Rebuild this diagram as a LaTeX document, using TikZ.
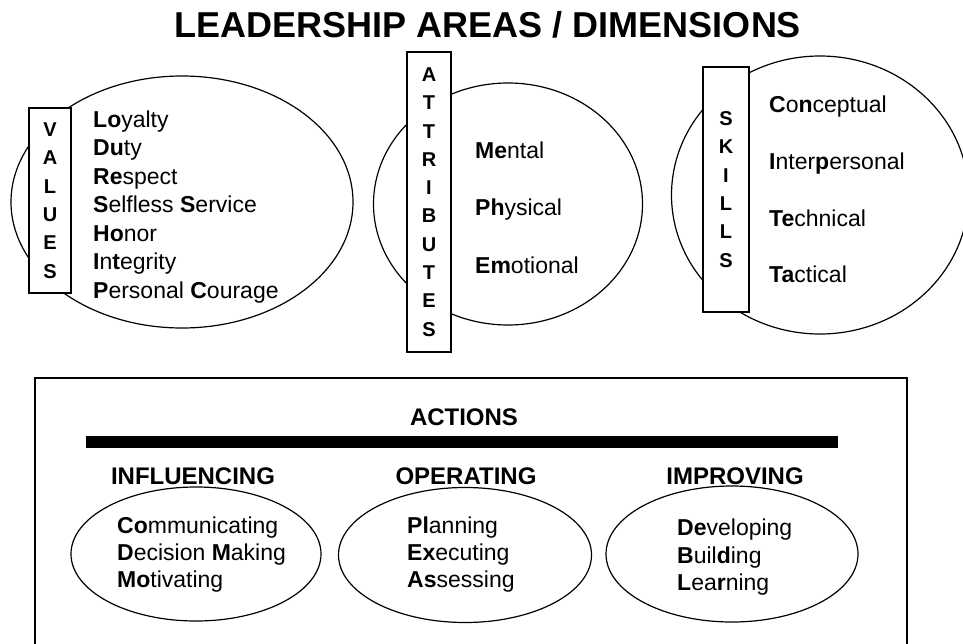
\documentclass[tikz,border=0pt]{standalone}
\usepackage{fontspec}
\setmainfont{Liberation Sans}
\usetikzlibrary{positioning}
\usetikzlibrary{shapes.geometric}

\begin{document}
\begin{tikzpicture}[x=1pt,y=-1pt,
  area/.style={draw,ellipse,line width=1.2pt,inner sep=0pt},
  letterbox/.style={draw,fill=white,line width=1.6pt,inner sep=0pt,align=center,
    font=\fontsize{20}{28.3}\selectfont\bfseries},
  itemtext/.style={anchor=north west,inner sep=0pt,align=left,
    font=\fontsize{23}{27.3}\selectfont},
  heading/.style={anchor=base,inner sep=0pt,font=\fontsize{24}{28}\selectfont\bfseries}]
  \clip (0,0) rectangle (963,644);

  \node[anchor=base,inner sep=0pt,font=\fontsize{36}{40}\selectfont\bfseries] (title) at (488,38)
    {LEADERSHIP AREAS / DIMENSIONS};

  % the three areas
  \node[area,minimum width=342pt,minimum height=252pt] (values) at (182,202) {};
  \node[area,minimum width=269pt,minimum height=242pt] (attributes) at (508,204) {};
  \node[area,minimum width=297pt,minimum height=278pt] (skills) at (820,195) {};

  \node[letterbox,minimum width=42pt,minimum height=185pt] (valuesbox) at (50,200.5)
    {V\\A\\L\\U\\E\\S};
  \node[letterbox,minimum width=44pt,minimum height=300pt] (attributesbox) at (429,202)
    {A\\T\\T\\R\\I\\B\\U\\T\\E\\S};
  \node[letterbox,minimum width=46pt,minimum height=245pt] (skillsbox) at (726,189.5)
    {S\\K\\I\\L\\L\\S};

  \node[itemtext,font=\fontsize{23}{28.5}\selectfont] (valueslist) at (93,110.2)
    {\textbf{Lo}yalty\\ \textbf{Du}ty\\ \textbf{Re}spect\\ \textbf{S}elfless \textbf{S}ervice\\
     \textbf{Ho}nor\\ \textbf{I}n\textbf{t}egrity\\ \textbf{P}ersonal \textbf{C}ourage};
  \node[itemtext,font=\fontsize{23}{57.5}\selectfont] (attributeslist) at (475,141.5)
    {\textbf{Me}ntal\\ \textbf{Ph}ysical\\ \textbf{Em}otional};
  \node[itemtext,font=\fontsize{23}{56.7}\selectfont] (skillslist) at (769,96)
    {\textbf{C}o\textbf{n}ceptual\\ \textbf{I}nter\textbf{p}ersonal\\ \textbf{Te}chnical\\ \textbf{Ta}ctical};

  % actions
  \draw[line width=2pt] (35,378) rectangle (907,660);
  \node[heading] (actions) at (464,425) {ACTIONS};
  \fill (86,436) rectangle (838,448);

  \node[area,minimum width=250pt,minimum height=134pt] (influencing) at (196,554) {};
  \node[area,minimum width=253pt,minimum height=135pt] (operating) at (465,555) {};
  \node[area,minimum width=252pt,minimum height=136pt] (improving) at (732,554) {};

  \node[heading] (influencinghead) at (193,484) {INFLUENCING};
  \node[heading] (operatinghead) at (466,484) {OPERATING};
  \node[heading] (improvinghead) at (735,484) {IMPROVING};

  \node[itemtext] (influencinglist) at (117,516.5)
    {\textbf{Co}mmunicating\\ \textbf{D}ecision \textbf{M}aking\\ \textbf{Mo}tivating};
  \node[itemtext] (operatinglist) at (407,516.5)
    {\textbf{Pl}anning\\ \textbf{Ex}ecuting\\ \textbf{As}sessing};
  \node[itemtext] (improvinglist) at (677,519)
    {\textbf{De}veloping\\ \textbf{B}uil\textbf{d}ing\\ \textbf{L}ea\textbf{r}ning};
\end{tikzpicture}
\end{document}
